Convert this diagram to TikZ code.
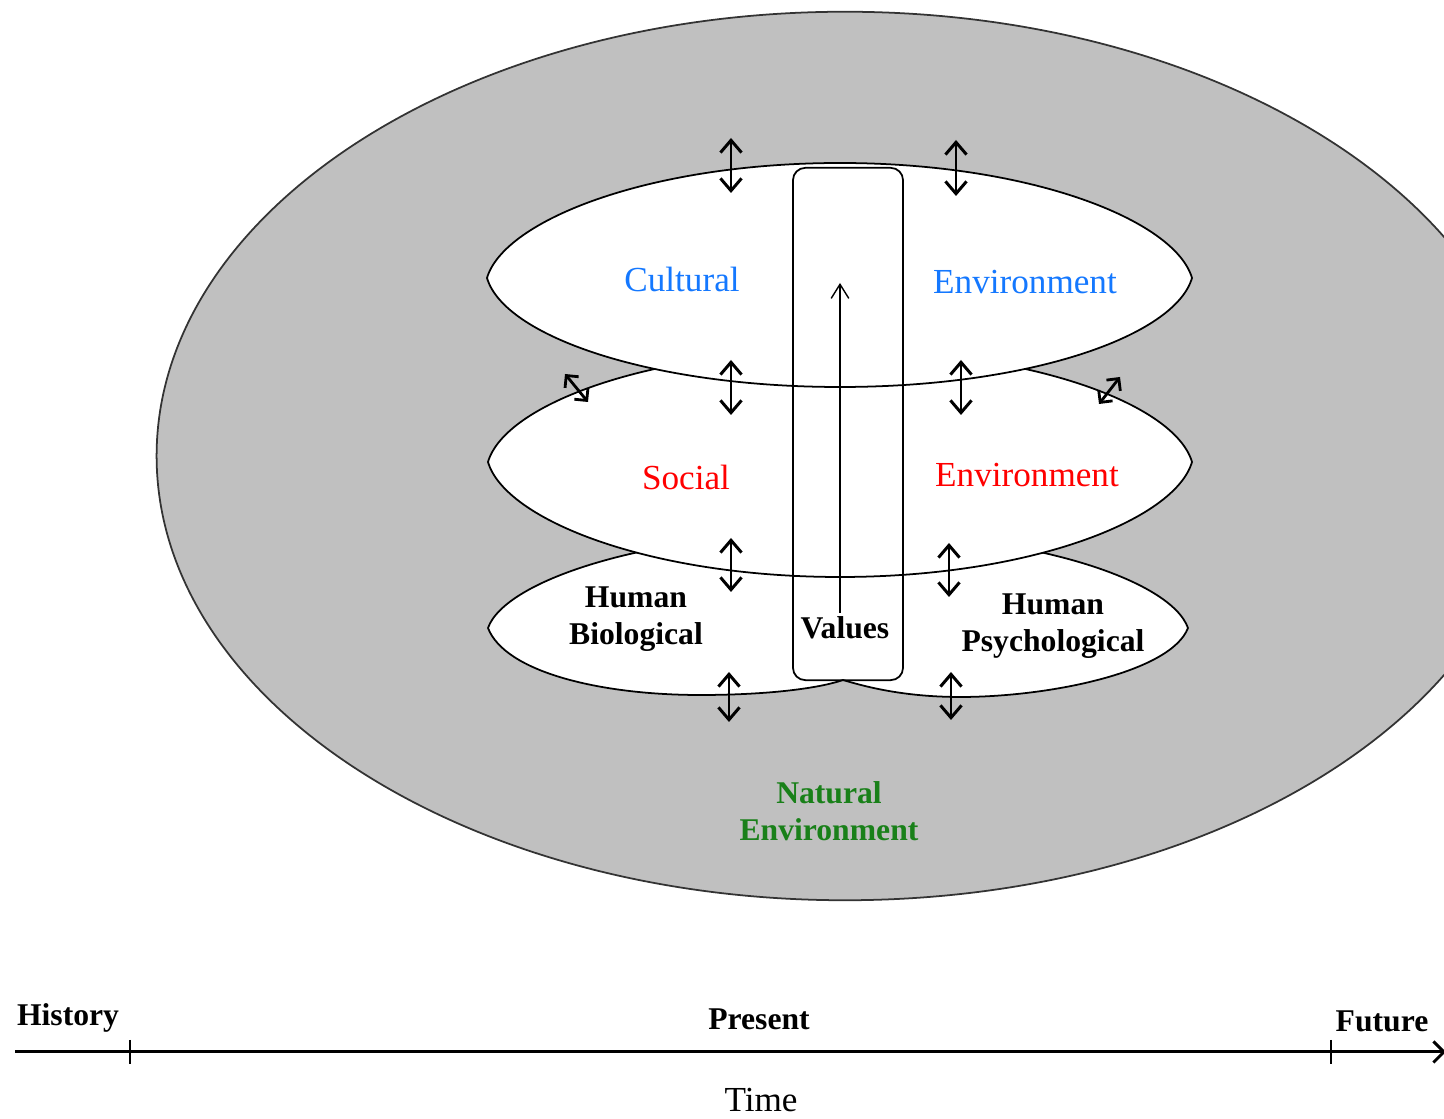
\documentclass[tikz,border=0pt]{standalone}
\usepackage{fontspec}
\setmainfont{Liberation Serif}
\usepackage{xcolor}
\usetikzlibrary{arrows.meta,positioning}

\definecolor{fieldgray}{RGB}{192,192,192}
\definecolor{culturalblue}{RGB}{20,120,255}
\definecolor{socialred}{RGB}{255,0,0}
\definecolor{naturalgreen}{RGB}{25,128,25}

\begin{document}
\begin{tikzpicture}[
  x=0.01cm, y=-0.01cm,
  lens/.style={draw, fill=white, line width=0.5pt},
  layertext/.style={font=\fontsize{10}{12}\selectfont, inner sep=1pt},
  innertext/.style={font=\bfseries\fontsize{9}{10.5}\selectfont, align=center, inner sep=1pt},
  valbox/.style={draw, rounded corners=3.5pt, minimum width=1.1cm, minimum height=5.12cm, line width=0.5pt},
  dblarrow/.style={{Straight Barb[length=3.5pt,width=6pt]}-{Straight Barb[length=3.5pt,width=6pt]}, line width=0.85pt},
  diagarrow/.style={{Straight Barb[length=2.5pt,width=5pt]}-{Straight Barb[length=2.5pt,width=5pt]}, line width=0.8pt},
  thinarrow/.style={-{Straight Barb[length=4pt,width=5pt]}, line width=0.4pt},
  timeline/.style={-{Straight Barb[length=3pt,width=6pt]}, line width=0.85pt}
]
\useasboundingbox (0,0) rectangle (1444,1119);
\clip (0,0) rectangle (1444,1119);

% Natural environment
\draw[fill=fieldgray, draw=black!80, line width=0.5pt] (845,456) ellipse [x radius=6.88cm, y radius=4.44cm];

% Human layer (two lobes)
\draw[lens] (488,628) .. controls (505,580) and (650,532) .. (840,532)
  .. controls (1030,532) and (1171,580) .. (1188,628)
  .. controls (1171,672) and (1050,697) .. (960,697)
  .. controls (900,697) and (860,685) .. (843,680)
  .. controls (820,688) and (770,695) .. (700,695)
  .. controls (600,695) and (505,672) .. cycle;

% Social layer
\draw[lens] (488,462) .. controls (505,404) and (650,350) .. (840,350)
  .. controls (1030,350) and (1175,404) .. (1192,462)
  .. controls (1175,520) and (1030,577) .. (840,577)
  .. controls (650,577) and (505,520) .. cycle;

% Cultural layer
\draw[lens] (487,278) .. controls (504,220) and (650,163) .. (840,163)
  .. controls (1030,163) and (1175,220) .. (1192,278)
  .. controls (1175,336) and (1030,387) .. (840,387)
  .. controls (650,387) and (504,336) .. cycle;

% Values column
\node[valbox] (valbox) at (848,424) {};
\node[innertext] (values) at (845,628) {Values};
\coordinate (valtop) at (840,283);
\draw[thinarrow] (values.north -| valtop) -- (valtop);

% Layer labels
\node[layertext, text=culturalblue] (cultural) at (682,279) {Cultural};
\node[layertext, text=culturalblue] (cultenv) at (1025,282) {Environment};
\node[layertext, text=socialred] (social) at (686,477) {Social};
\node[layertext, text=socialred] (socenv) at (1027,475) {Environment};
\node[innertext] (biological) at (636,619) {Human\\Biological};
\node[innertext] (psychological) at (1053,626) {Human\\Psychological};
\node[innertext, text=naturalgreen] (natural) at (829,811) {Natural\\Environment};

% Interactions between layers
\draw[dblarrow] (731,138) -- (731,193);
\draw[dblarrow] (956,140) -- (956,196);
\draw[dblarrow] (731,360) -- (731,415);
\draw[dblarrow] (961,360) -- (961,415);
\draw[dblarrow] (731,538) -- (731,592);
\draw[dblarrow] (949,543) -- (949,597);
\draw[dblarrow] (729,672) -- (729,722);
\draw[dblarrow] (951,672) -- (951,720);
\draw[diagarrow] (565,374) -- (588,402);
\draw[diagarrow] (1120,377) -- (1099,404);

% Time axis
\coordinate (tstart) at (15,1052);
\coordinate (tend) at (1446,1052);
\draw[timeline] (tstart) -- (tend);
\draw[line width=0.6pt] (130,1040) -- (130,1064);
\draw[line width=0.6pt] (1331,1040) -- (1331,1064);
\node[innertext] (history) at (68,1018) {History};
\node[innertext] (present) at (759,1019) {Present};
\node[innertext] (future) at (1382,1021) {Future};
\node[layertext] (time) at (761,1100) {Time};

\end{tikzpicture}
\end{document}
